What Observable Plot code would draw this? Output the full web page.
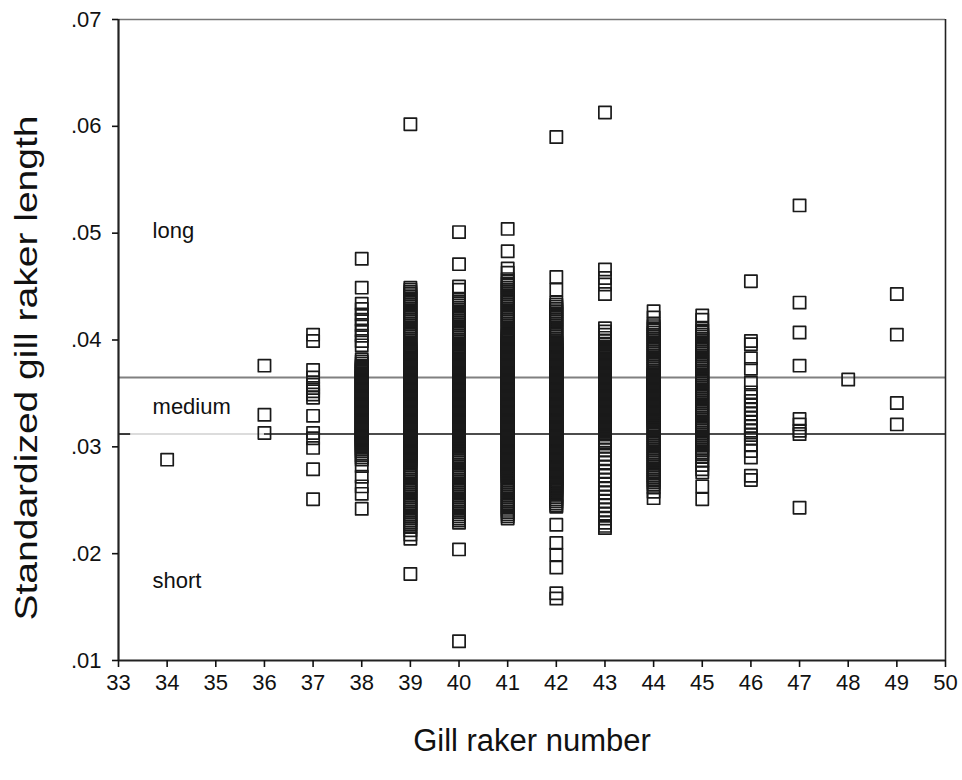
<!DOCTYPE html>
<html>
<head>
<meta charset="utf-8">
<script src="https://cdn.jsdelivr.net/npm/d3@7"></script>
<script src="https://cdn.jsdelivr.net/npm/@observablehq/plot@0.6"></script>
<style>
  html, body { margin: 0; padding: 0; background: #fff; }
  #chart { width: 962px; height: 780px; }
</style>
</head>
<body>
<div id="chart"></div>
<script>
// ---- Data ----
const xTicks = [33, 34, 35, 36, 37, 38, 39, 40, 41, 42, 43, 44, 45, 46, 47, 48, 49, 50];
const yTicks = [0.01, 0.02, 0.03, 0.04, 0.05, 0.06, 0.07];

const raker34 = [0.0288];
const raker36 = [0.0376, 0.0330, 0.0313];
const raker37 = [0.0405, 0.0399, 0.0372, 0.0365, 0.0358, 0.0355, 0.0352, 0.0349, 0.0346, 0.0329,
  0.0313, 0.0308, 0.0299, 0.0279, 0.0251];
const raker38 = [0.0476, 0.0449, 0.0434, 0.0429, 0.0424, 0.0419, 0.0414, 0.0409, 0.0404, 0.0399, 0.0395,
  0.0382, 0.0380, 0.0378, 0.0376,
  0.0375, 0.0374, 0.0373, 0.0372, 0.0371, 0.0370, 0.0369, 0.0368, 0.0367, 0.0366,
  0.0365, 0.0364, 0.0363, 0.0362, 0.0361, 0.0360, 0.0359, 0.0358, 0.0357, 0.0356,
  0.0355, 0.0354, 0.0353, 0.0352, 0.0351, 0.0350, 0.0349, 0.0348, 0.0347, 0.0346,
  0.0345, 0.0344, 0.0343, 0.0342, 0.0341, 0.0340, 0.0339, 0.0338, 0.0337, 0.0336,
  0.0335, 0.0334, 0.0333, 0.0332, 0.0331, 0.0330, 0.0329, 0.0328, 0.0327, 0.0326,
  0.0325, 0.0324, 0.0323, 0.0322, 0.0321, 0.0320, 0.0319, 0.0318, 0.0317, 0.0316,
  0.0315, 0.0314, 0.0313, 0.0312, 0.0311, 0.0310, 0.0309, 0.0308, 0.0307, 0.0306,
  0.0305, 0.0304, 0.0303, 0.0302, 0.0301, 0.0300,
  0.0298, 0.0296, 0.0294, 0.0292, 0.0290, 0.0288,
  0.0282, 0.0272, 0.0263, 0.0256, 0.0242];
const raker39 = [0.0602,
  0.0449, 0.0447, 0.0445, 0.0443, 0.0441, 0.0439, 0.0437, 0.0435, 0.0433, 0.0431, 0.0429, 0.0427,
  0.0425, 0.0423, 0.0421, 0.0419, 0.0417, 0.0415, 0.0413, 0.0411, 0.0409, 0.0407, 0.0405, 0.0403,
  0.0401, 0.0399, 0.0397, 0.0395,
  0.0393, 0.0392, 0.0391, 0.0390, 0.0389, 0.0388, 0.0387, 0.0386,
  0.0385, 0.0384, 0.0383, 0.0382, 0.0381, 0.0380, 0.0379, 0.0378, 0.0377, 0.0376,
  0.0375, 0.0374, 0.0373, 0.0372, 0.0371, 0.0370, 0.0369, 0.0368, 0.0367, 0.0366,
  0.0365, 0.0364, 0.0363, 0.0362, 0.0361, 0.0360, 0.0359, 0.0358, 0.0357, 0.0356,
  0.0355, 0.0354, 0.0353, 0.0352, 0.0351, 0.0350, 0.0349, 0.0348, 0.0347, 0.0346,
  0.0345, 0.0344, 0.0343, 0.0342, 0.0341, 0.0340, 0.0339, 0.0338, 0.0337, 0.0336,
  0.0335, 0.0334, 0.0333, 0.0332, 0.0331, 0.0330, 0.0329, 0.0328, 0.0327, 0.0326,
  0.0325, 0.0324, 0.0323, 0.0322, 0.0321, 0.0320, 0.0319, 0.0318, 0.0317, 0.0316,
  0.0315, 0.0314, 0.0313, 0.0312, 0.0311, 0.0310, 0.0309, 0.0308, 0.0307, 0.0306,
  0.0305, 0.0304, 0.0303, 0.0302, 0.0301, 0.0300, 0.0299, 0.0298, 0.0297, 0.0296,
  0.0295, 0.0294, 0.0293, 0.0292, 0.0291, 0.0290, 0.0289, 0.0288, 0.0287, 0.0286, 0.0285,
  0.0283, 0.0281, 0.0279, 0.0277, 0.0275, 0.0273, 0.0271, 0.0269, 0.0267, 0.0265, 0.0263, 0.0261,
  0.0259, 0.0257, 0.0255, 0.0253, 0.0251, 0.0249, 0.0247, 0.0245, 0.0243, 0.0241, 0.0239, 0.0237,
  0.0235, 0.0233, 0.0231, 0.0229, 0.0227, 0.0225, 0.0222, 0.0218, 0.0214,
  0.0181];
const raker40 = [0.0501, 0.0471, 0.0450, 0.0447,
  0.0438, 0.0436, 0.0434, 0.0432, 0.0430, 0.0428, 0.0426, 0.0424, 0.0422, 0.0420, 0.0418, 0.0416,
  0.0414, 0.0412, 0.0410, 0.0408, 0.0406, 0.0404, 0.0402, 0.0400, 0.0398, 0.0396, 0.0394,
  0.0393, 0.0392, 0.0391, 0.0390, 0.0389, 0.0388, 0.0387, 0.0386,
  0.0385, 0.0384, 0.0383, 0.0382, 0.0381, 0.0380, 0.0379, 0.0378, 0.0377, 0.0376,
  0.0375, 0.0374, 0.0373, 0.0372, 0.0371, 0.0370, 0.0369, 0.0368, 0.0367, 0.0366,
  0.0365, 0.0364, 0.0363, 0.0362, 0.0361, 0.0360, 0.0359, 0.0358, 0.0357, 0.0356,
  0.0355, 0.0354, 0.0353, 0.0352, 0.0351, 0.0350, 0.0349, 0.0348, 0.0347, 0.0346,
  0.0345, 0.0344, 0.0343, 0.0342, 0.0341, 0.0340, 0.0339, 0.0338, 0.0337, 0.0336,
  0.0335, 0.0334, 0.0333, 0.0332, 0.0331, 0.0330, 0.0329, 0.0328, 0.0327, 0.0326,
  0.0325, 0.0324, 0.0323, 0.0322, 0.0321, 0.0320, 0.0319, 0.0318, 0.0317, 0.0316,
  0.0315, 0.0314, 0.0313, 0.0312, 0.0311, 0.0310, 0.0309, 0.0308, 0.0307, 0.0306,
  0.0305, 0.0304, 0.0303, 0.0302, 0.0301, 0.0300, 0.0299,
  0.0297, 0.0295, 0.0293, 0.0291, 0.0289, 0.0287, 0.0285, 0.0283, 0.0281, 0.0279, 0.0277, 0.0275,
  0.0273, 0.0271, 0.0269, 0.0267, 0.0265, 0.0263, 0.0261, 0.0259, 0.0257, 0.0255, 0.0253, 0.0251,
  0.0249, 0.0247, 0.0245, 0.0243, 0.0241, 0.0239, 0.0237, 0.0235, 0.0233, 0.0231, 0.0229,
  0.0204, 0.0118];
const raker41 = [0.0504, 0.0483, 0.0467, 0.0463,
  0.0457, 0.0455, 0.0453, 0.0451, 0.0449, 0.0447, 0.0445, 0.0443, 0.0441, 0.0439, 0.0437, 0.0435,
  0.0433, 0.0431, 0.0429, 0.0427, 0.0425, 0.0423, 0.0421, 0.0419, 0.0417, 0.0415, 0.0413, 0.0411,
  0.0409, 0.0407, 0.0405,
  0.0404, 0.0403, 0.0402, 0.0401, 0.0400, 0.0399, 0.0398, 0.0397, 0.0396,
  0.0395, 0.0394, 0.0393, 0.0392, 0.0391, 0.0390, 0.0389, 0.0388, 0.0387, 0.0386,
  0.0385, 0.0384, 0.0383, 0.0382, 0.0381, 0.0380, 0.0379, 0.0378, 0.0377, 0.0376,
  0.0375, 0.0374, 0.0373, 0.0372, 0.0371, 0.0370, 0.0369, 0.0368, 0.0367, 0.0366,
  0.0365, 0.0364, 0.0363, 0.0362, 0.0361, 0.0360, 0.0359, 0.0358, 0.0357, 0.0356,
  0.0355, 0.0354, 0.0353, 0.0352, 0.0351, 0.0350, 0.0349, 0.0348, 0.0347, 0.0346,
  0.0345, 0.0344, 0.0343, 0.0342, 0.0341, 0.0340, 0.0339, 0.0338, 0.0337, 0.0336,
  0.0335, 0.0334, 0.0333, 0.0332, 0.0331, 0.0330, 0.0329, 0.0328, 0.0327, 0.0326,
  0.0325, 0.0324, 0.0323, 0.0322, 0.0321, 0.0320, 0.0319, 0.0318, 0.0317, 0.0316,
  0.0315, 0.0314, 0.0313, 0.0312, 0.0311, 0.0310, 0.0309, 0.0308, 0.0307, 0.0306,
  0.0305, 0.0304, 0.0303, 0.0302, 0.0301, 0.0300, 0.0299, 0.0298, 0.0297, 0.0296,
  0.0295, 0.0294, 0.0293, 0.0292, 0.0291, 0.0290, 0.0289, 0.0288, 0.0287, 0.0286,
  0.0285, 0.0284, 0.0283, 0.0282, 0.0281, 0.0280, 0.0279, 0.0278, 0.0277, 0.0276,
  0.0275, 0.0274, 0.0273, 0.0272, 0.0271,
  0.0269, 0.0267, 0.0265, 0.0263, 0.0261, 0.0259, 0.0257, 0.0255, 0.0253, 0.0251, 0.0249, 0.0247,
  0.0245, 0.0243, 0.0241, 0.0239, 0.0237, 0.0235, 0.0233];
const raker42 = [0.0590, 0.0459, 0.0447,
  0.0435, 0.0433, 0.0431, 0.0429, 0.0427, 0.0425, 0.0423, 0.0421, 0.0419, 0.0417, 0.0415, 0.0413,
  0.0411, 0.0409, 0.0407, 0.0405, 0.0403, 0.0401, 0.0399,
  0.0398, 0.0397, 0.0396,
  0.0395, 0.0394, 0.0393, 0.0392, 0.0391, 0.0390, 0.0389, 0.0388, 0.0387, 0.0386,
  0.0385, 0.0384, 0.0383, 0.0382, 0.0381, 0.0380, 0.0379, 0.0378, 0.0377, 0.0376,
  0.0375, 0.0374, 0.0373, 0.0372, 0.0371, 0.0370, 0.0369, 0.0368, 0.0367, 0.0366,
  0.0365, 0.0364, 0.0363, 0.0362, 0.0361, 0.0360, 0.0359, 0.0358, 0.0357, 0.0356,
  0.0355, 0.0354, 0.0353, 0.0352, 0.0351, 0.0350, 0.0349, 0.0348, 0.0347, 0.0346,
  0.0345, 0.0344, 0.0343, 0.0342, 0.0341, 0.0340, 0.0339, 0.0338, 0.0337, 0.0336,
  0.0335, 0.0334, 0.0333, 0.0332, 0.0331, 0.0330, 0.0329, 0.0328, 0.0327, 0.0326,
  0.0325, 0.0324, 0.0323, 0.0322, 0.0321, 0.0320, 0.0319, 0.0318, 0.0317, 0.0316,
  0.0315, 0.0314, 0.0313, 0.0312, 0.0311, 0.0310, 0.0309, 0.0308, 0.0307, 0.0306,
  0.0305, 0.0304, 0.0303, 0.0302, 0.0301, 0.0300, 0.0299, 0.0298, 0.0297, 0.0296,
  0.0295, 0.0294, 0.0293, 0.0292, 0.0291, 0.0290, 0.0289, 0.0288, 0.0287, 0.0286,
  0.0285, 0.0284, 0.0283, 0.0282, 0.0281, 0.0280, 0.0279, 0.0278, 0.0277, 0.0276,
  0.0275, 0.0274, 0.0273, 0.0272, 0.0271, 0.0270, 0.0269, 0.0268, 0.0267, 0.0266,
  0.0265, 0.0264, 0.0263, 0.0262, 0.0261, 0.0260, 0.0259,
  0.0257, 0.0255, 0.0253, 0.0251, 0.0249, 0.0247, 0.0245, 0.0244,
  0.0227, 0.0210, 0.0199, 0.0187, 0.0163, 0.0158];
const raker43 = [0.0613, 0.0466, 0.0458, 0.0452, 0.0443,
  0.0411, 0.0408, 0.0405, 0.0402, 0.0399, 0.0396,
  0.0394, 0.0393, 0.0392, 0.0391, 0.0390, 0.0389, 0.0388, 0.0387, 0.0386,
  0.0385, 0.0384, 0.0383, 0.0382, 0.0381, 0.0380, 0.0379, 0.0378, 0.0377, 0.0376,
  0.0375, 0.0374, 0.0373, 0.0372, 0.0371, 0.0370, 0.0369, 0.0368, 0.0367, 0.0366,
  0.0365, 0.0364, 0.0363, 0.0362, 0.0361, 0.0360, 0.0359, 0.0358, 0.0357, 0.0356,
  0.0355, 0.0354, 0.0353, 0.0352, 0.0351, 0.0350, 0.0349, 0.0348, 0.0347, 0.0346,
  0.0345, 0.0344, 0.0343, 0.0342, 0.0341, 0.0340, 0.0339, 0.0338, 0.0337, 0.0336,
  0.0335, 0.0334, 0.0333, 0.0332, 0.0331, 0.0330, 0.0329, 0.0328, 0.0327, 0.0326,
  0.0325, 0.0324, 0.0323, 0.0322, 0.0321, 0.0320, 0.0319, 0.0318, 0.0317, 0.0316,
  0.0315, 0.0314, 0.0313, 0.0312,
  0.0309, 0.0306, 0.0303, 0.0300, 0.0297, 0.0293, 0.0289, 0.0285, 0.0281, 0.0277, 0.0273, 0.0269,
  0.0265, 0.0261, 0.0257, 0.0253, 0.0249, 0.0245, 0.0241, 0.0237, 0.0233, 0.0229, 0.0226, 0.0224];
const raker44 = [0.0427, 0.0421,
  0.0415, 0.0413, 0.0411, 0.0409, 0.0407, 0.0405, 0.0403, 0.0401, 0.0399, 0.0397, 0.0395, 0.0393,
  0.0391, 0.0389, 0.0387, 0.0385, 0.0383, 0.0381, 0.0379, 0.0377, 0.0375, 0.0373, 0.0371,
  0.0369, 0.0368, 0.0367, 0.0366,
  0.0365, 0.0364, 0.0363, 0.0362, 0.0361, 0.0360, 0.0359, 0.0358, 0.0357, 0.0356,
  0.0355, 0.0354, 0.0353, 0.0352, 0.0351, 0.0350, 0.0349, 0.0348, 0.0347, 0.0346,
  0.0345, 0.0344, 0.0343, 0.0342, 0.0341, 0.0340, 0.0339, 0.0338, 0.0337, 0.0336,
  0.0335, 0.0334, 0.0333, 0.0332, 0.0331, 0.0330, 0.0329, 0.0328, 0.0327, 0.0326,
  0.0325, 0.0324, 0.0323,
  0.0321, 0.0319, 0.0317, 0.0315, 0.0313, 0.0311, 0.0309, 0.0307, 0.0305, 0.0303, 0.0301, 0.0299,
  0.0297, 0.0295, 0.0293, 0.0291, 0.0289, 0.0287, 0.0285, 0.0283, 0.0281, 0.0279, 0.0277, 0.0275,
  0.0273, 0.0271, 0.0269, 0.0267, 0.0265, 0.0262, 0.0258, 0.0252];
const raker45 = [0.0423, 0.0419,
  0.0411, 0.0409, 0.0407, 0.0405, 0.0403, 0.0401, 0.0399, 0.0397, 0.0395, 0.0393, 0.0391, 0.0389,
  0.0387, 0.0385, 0.0383, 0.0381, 0.0379, 0.0377, 0.0375, 0.0373, 0.0371, 0.0369, 0.0367, 0.0365,
  0.0363, 0.0361, 0.0359, 0.0357, 0.0355, 0.0353, 0.0351, 0.0349, 0.0347, 0.0345, 0.0343, 0.0341,
  0.0339, 0.0337, 0.0335, 0.0333, 0.0331, 0.0329, 0.0327, 0.0325, 0.0323, 0.0321, 0.0319, 0.0317,
  0.0315, 0.0313, 0.0311, 0.0309, 0.0307, 0.0305, 0.0303, 0.0301, 0.0299, 0.0297, 0.0295, 0.0293,
  0.0291, 0.0287, 0.0283, 0.0279, 0.0276, 0.0263, 0.0251];
const raker46 = [0.0455, 0.0399, 0.0396, 0.0383, 0.0373, 0.0360, 0.0351, 0.0347, 0.0343, 0.0339,
  0.0335, 0.0331, 0.0327, 0.0323, 0.0319, 0.0315, 0.0311, 0.0308, 0.0302, 0.0296, 0.0290, 0.0273,
  0.0269];
const raker47 = [0.0526, 0.0435, 0.0407, 0.0376, 0.0326, 0.0321, 0.0315, 0.0312, 0.0243];
const raker48 = [0.0363];
const raker49 = [0.0443, 0.0405, 0.0341, 0.0321];

const rakerNumbers = [34, 36, 37, 38, 39, 40, 41, 42, 43, 44, 45, 46, 47, 48, 49];
const rakerLengths = [raker34, raker36, raker37, raker38, raker39, raker40, raker41, raker42,
  raker43, raker44, raker45, raker46, raker47, raker48, raker49];

const cutUpper = 0.0365;   // long / medium boundary
const cutLower = 0.0312;   // medium / short boundary

const bandNames = ["long", "medium", "short"];
const bandLabelY = [0.05025, 0.0337, 0.0174];

const xTitle = "Gill raker number";
const yTitle = "Standardized gill raker length";

// ---- Table built from the arrays ----
const points = rakerNumbers.flatMap((n, i) => rakerLengths[i].map(v => ({number: n, length: v})));
const bands = bandNames.map((name, i) => ({name, y: bandLabelY[i]}));

const fmtY = d => d3.format(".2f")(d).replace(/^0/, "");

const chart = Plot.plot({
  width: 962,
  height: 780,
  marginLeft: 118,
  marginRight: 17,
  marginTop: 19,
  marginBottom: 120,
  style: {
    fontFamily: "'Liberation Sans', Arial, sans-serif",
    fontSize: "22px",
    color: "#111",
    background: "#fff",
    overflow: "visible"
  },
  x: {domain: [33, 50], label: null},
  y: {domain: [0.01, 0.07], label: null},
  marks: [
    // category boundary lines
    Plot.ruleY([cutUpper], {x1: 33, x2: 50, stroke: "#808080", strokeWidth: 2}),
    Plot.ruleY([cutLower], {x1: 33, x2: 36, stroke: "#d0d0d0", strokeWidth: 1.5}),
    Plot.ruleY([cutLower], {x1: 36, x2: 50, stroke: "#111", strokeWidth: 1.6}),
    Plot.ruleY([cutLower], {x1: 33, x2: 33.25, stroke: "#111", strokeWidth: 1.6}),
    // frame
    Plot.ruleY([0.07], {x1: 33, x2: 50, stroke: "#777", strokeWidth: 1.6}),
    Plot.ruleX([50], {y1: 0.01, y2: 0.07, stroke: "#222", strokeWidth: 1.6}),
    Plot.ruleX([33], {y1: 0.01, y2: 0.07, stroke: "#222", strokeWidth: 2.2}),
    Plot.ruleY([0.01], {x1: 33, x2: 50, stroke: "#222", strokeWidth: 2.2}),
    // axes
    Plot.axisX({ticks: xTicks, tickSize: 7, tickPadding: 7, tickFormat: d => String(d),
      fontSize: 22, strokeWidth: 1.6, label: null}),
    Plot.axisY({ticks: yTicks, tickSize: 6, tickPadding: 11, tickFormat: fmtY,
      fontSize: 22, strokeWidth: 1.6, label: null}),
    // points
    Plot.dot(points, {x: "number", y: "length", symbol: "square", r: 6.9,
      stroke: "#1a1a1a", strokeWidth: 1.7, fill: "none", strokeLinejoin: "round"}),
    // band labels
    Plot.text(bands, {x: 33.7, y: "y", text: "name", textAnchor: "start", fontSize: 22, fill: "#111"}),
    // axis titles
    Plot.text([xTitle], {frameAnchor: "bottom", textAnchor: "middle", dy: 90, fontSize: 31, fill: "#111"}),
    Plot.text([yTitle], {frameAnchor: "left", textAnchor: "middle", dx: -91, dy: 28, rotate: -90,
      fontSize: 31, fill: "#111"})
  ]
});

// the reference's vertical title is stretched along its length
d3.select(chart).selectAll("text")
  .filter(function () { return this.textContent === yTitle; })
  .attr("textLength", 505)
  .attr("lengthAdjust", "spacingAndGlyphs");

document.getElementById("chart").appendChild(chart);
</script>
</body>
</html>
